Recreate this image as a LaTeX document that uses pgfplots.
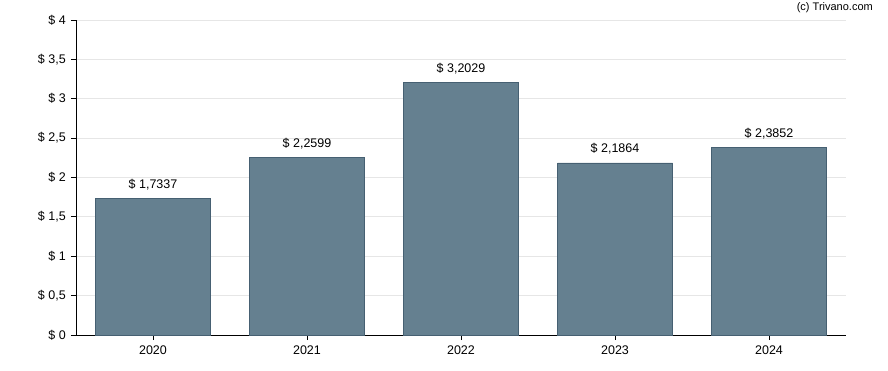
\documentclass[border=0pt]{standalone}
\usepackage{pgfplots}
\pgfplotsset{compat=1.18}
\usepackage{fontspec}
\setmainfont{Liberation Sans}
\definecolor{barfill}{RGB}{101,128,144}
\definecolor{baredge}{RGB}{70,96,114}
\definecolor{gridc}{RGB}{230,230,230}
\begin{document}
\fontsize{12pt}{14pt}\selectfont
\begin{tikzpicture}[x=1pt,y=1pt]
\path[use as bounding box] (-76pt,-35pt) rectangle (812pt,335pt);
\begin{axis}[
  at={(0pt,0pt)}, anchor=south west,
  scale only axis, width=770pt, height=315pt,
  xmin=-0.5, xmax=4.5, ymin=0, ymax=4,
  axis x line*=bottom, axis y line*=left,
  axis line style={-, black, line width=0.8pt},
  xtick={0,1,2,3,4},
  xticklabels={2020,2021,2022,2023,2024},
  ytick={0,0.5,1,1.5,2,2.5,3,3.5,4},
  yticklabels={{\$ 0},{\$ 0,5},{\$ 1},{\$ 1,5},{\$ 2},{\$ 2,5},{\$ 3},{\$ 3,5},{\$ 4}},
  ymajorgrids, grid style={gridc, line width=0.8pt},
  tick align=outside, major tick length=5pt,
  tick style={black, line width=0.8pt},
  xtick pos=bottom, ytick pos=left,
  tick label style={font=\fontsize{12.5pt}{14pt}\selectfont},
  /pgf/number format/assume math mode=true,
  yticklabel style={xshift=-1pt},
  xticklabel style={yshift=-2pt},
  ybar, bar width=115pt,
  nodes near coords,
  point meta=explicit symbolic,
  every node near coord/.append style={font=\fontsize{12.5pt}{14pt}\selectfont, yshift=4pt, black},
]
\addplot[fill=barfill, draw=baredge, line width=0.6pt] coordinates {
  (0,1.7337) [\$ 1,7337]
  (1,2.2599) [\$ 2,2599]
  (2,3.2029) [\$ 3,2029]
  (3,2.1864) [\$ 2,1864]
  (4,2.3852) [\$ 2,3852]
};
\end{axis}
\node[anchor=east, font=\fontsize{11pt}{13pt}\selectfont] at (801pt,327pt) {(c) Trivano.com};
\end{tikzpicture}
\end{document}
